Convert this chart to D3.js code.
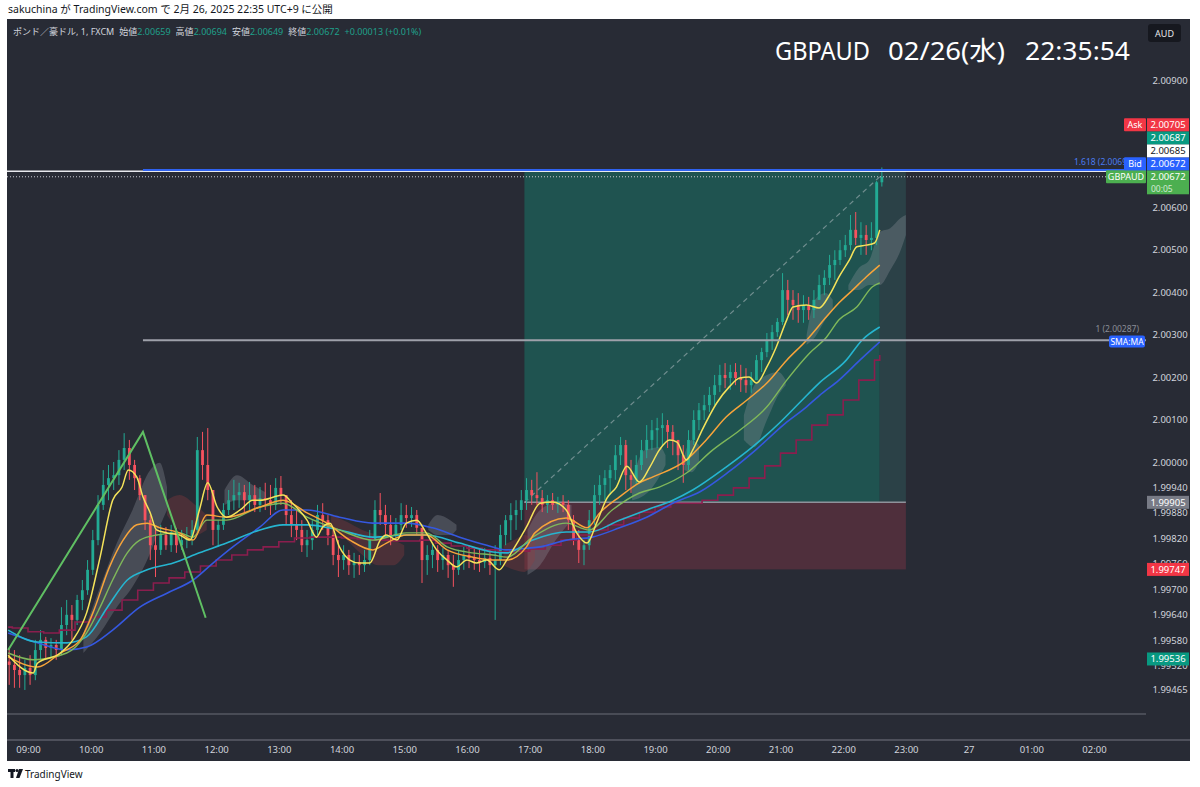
<!DOCTYPE html>
<html><head><meta charset="utf-8">
<script src="https://cdn.jsdelivr.net/npm/d3@7"></script>
<style>
html,body{margin:0;padding:0;background:#fff;}
svg{display:block;font-family:"Noto Sans","Noto Sans CJK JP",sans-serif;}
</style></head><body>
<svg id="c" width="1200" height="787"></svg>
<script>
// ---------------- DATA ----------------
const publishLine = "sakuchina が TradingView.com で 2月 26, 2025 22:35 UTC+9 に公開";
const symbolTitle = ["GBPAUD", "02/26(水)", "22:35:54"];
const legendName = "ポンド／豪ドル, 1, FXCM";
const legendItems = [["始値","2.00659"],["高値","2.00694"],["安値","2.00649"],["終値","2.00672"]];
const legendChange = "+0.00013 (+0.01%)";

const candleStart = "08:40";      // 5-minute candles
const candleStepMin = 5;
const firstOpen = 1.99530;
const closes = [1.99522,1.99510,1.99498,1.99515,1.99498,1.99557,1.99581,1.99562,1.99569,1.99557,
1.99616,1.99640,1.99628,1.99675,1.99698,1.99746,1.99816,1.99899,1.99946,1.99962,
1.99969,2.00005,2.00033,1.99993,1.99962,1.99922,1.99863,1.99804,1.99793,1.99828,
1.99804,1.99835,1.99804,1.99816,1.99821,1.99840,2.00028,1.99993,1.99934,1.99840,
1.99852,1.99887,1.99910,1.99922,1.99929,1.99910,1.99922,1.99899,1.99915,1.99910,
1.99899,1.99939,1.99922,1.99875,1.99852,1.99840,1.99804,1.99816,1.99840,1.99875,
1.99863,1.99828,1.99781,1.99769,1.99781,1.99757,1.99764,1.99757,1.99769,1.99816,
1.99887,1.99875,1.99852,1.99828,1.99852,1.99875,1.99868,1.99875,1.99845,1.99769,
1.99781,1.99793,1.99769,1.99781,1.99757,1.99746,1.99769,1.99781,1.99774,1.99769,
1.99764,1.99774,1.99757,1.99769,1.99828,1.99863,1.99875,1.99887,1.99910,1.99934,
1.99922,1.99915,1.99899,1.99910,1.99899,1.99906,1.99899,1.99863,1.99816,1.99793,
1.99804,1.99863,1.99922,1.99946,1.99962,1.99981,2.00016,2.00040,1.99969,1.99958,
1.99993,2.00028,2.00052,2.00075,2.00080,2.00087,2.00071,2.00052,2.00016,1.99993,
2.00052,2.00099,2.00122,2.00134,2.00158,2.00181,2.00205,2.00198,2.00212,2.00198,
2.00193,2.00181,2.00193,2.00240,2.00259,2.00287,2.00306,2.00330,2.00405,2.00382,
2.00370,2.00358,2.00370,2.00358,2.00382,2.00417,2.00434,2.00464,2.00476,2.00499,
2.00511,2.00547,2.00528,2.00535,2.00523,2.00528,2.00659,2.00672];
const highs = [1.99562,1.99557,1.99545,1.99534,1.99545,1.99581,1.99604,1.99588,1.99585,1.99581,
1.99658,1.99675,1.99663,1.99687,1.99722,1.99769,1.99840,1.99922,1.99981,1.99993,
2.00000,2.00028,2.00068,2.00052,2.00005,1.99969,1.99922,1.99875,1.99840,1.99852,
1.99847,1.99852,1.99845,1.99840,1.99847,1.99863,2.00059,2.00071,2.00080,1.99922,
1.99863,1.99903,1.99934,1.99958,1.99951,1.99946,1.99953,1.99946,1.99941,1.99951,
1.99946,1.99962,1.99967,1.99922,1.99910,1.99887,1.99863,1.99840,1.99863,1.99899,
1.99903,1.99875,1.99840,1.99816,1.99804,1.99793,1.99786,1.99781,1.99793,1.99840,
1.99910,1.99927,1.99899,1.99875,1.99868,1.99903,1.99899,1.99894,1.99887,1.99840,
1.99804,1.99809,1.99804,1.99797,1.99793,1.99781,1.99793,1.99800,1.99804,1.99797,
1.99793,1.99797,1.99793,1.99804,1.99852,1.99875,1.99903,1.99910,1.99934,1.99962,
1.99958,1.99976,1.99934,1.99922,1.99927,1.99918,1.99922,1.99910,1.99875,1.99840,
1.99816,1.99887,1.99946,1.99969,1.99981,1.99993,2.00040,2.00059,2.00052,2.00005,
2.00016,2.00052,2.00087,2.00099,2.00104,2.00115,2.00099,2.00087,2.00052,2.00040,
2.00075,2.00122,2.00139,2.00158,2.00177,2.00205,2.00229,2.00233,2.00229,2.00233,
2.00229,2.00221,2.00212,2.00252,2.00269,2.00304,2.00323,2.00339,2.00445,2.00429,
2.00405,2.00398,2.00393,2.00389,2.00405,2.00441,2.00452,2.00488,2.00499,2.00523,
2.00535,2.00582,2.00589,2.00565,2.00558,2.00565,2.00662,2.00694];
const lows = [1.99475,1.99468,1.99468,1.99463,1.99475,1.99486,1.99534,1.99534,1.99538,1.99534,
1.99545,1.99592,1.99581,1.99616,1.99651,1.99687,1.99734,1.99804,1.99887,1.99910,
1.99934,1.99946,1.99981,1.99958,1.99934,1.99910,1.99840,1.99769,1.99729,1.99781,
1.99793,1.99788,1.99786,1.99793,1.99797,1.99804,1.99828,1.99958,1.99910,1.99804,
1.99800,1.99840,1.99875,1.99887,1.99892,1.99882,1.99887,1.99882,1.99882,1.99887,
1.99875,1.99887,1.99899,1.99852,1.99823,1.99816,1.99788,1.99776,1.99793,1.99828,
1.99840,1.99804,1.99757,1.99729,1.99746,1.99734,1.99727,1.99734,1.99741,1.99757,
1.99816,1.99852,1.99828,1.99804,1.99816,1.99840,1.99845,1.99847,1.99828,1.99715,
1.99734,1.99750,1.99741,1.99746,1.99727,1.99706,1.99734,1.99746,1.99750,1.99746,
1.99741,1.99750,1.99734,1.99628,1.99757,1.99804,1.99816,1.99840,1.99863,1.99887,
1.99899,1.99899,1.99882,1.99880,1.99887,1.99880,1.99882,1.99840,1.99804,1.99762,
1.99757,1.99793,1.99852,1.99899,1.99910,1.99922,1.99958,1.99993,1.99934,1.99927,
1.99946,1.99981,2.00009,2.00028,2.00033,2.00040,2.00033,2.00016,1.99981,1.99951,
1.99981,2.00040,2.00075,2.00099,2.00118,2.00134,2.00165,2.00174,2.00170,2.00181,
2.00165,2.00163,2.00163,2.00193,2.00212,2.00247,2.00264,2.00295,2.00323,2.00346,
2.00335,2.00328,2.00328,2.00335,2.00339,2.00382,2.00393,2.00417,2.00429,2.00464,
2.00483,2.00499,2.00511,2.00488,2.00488,2.00499,2.00511,2.00649];

// indicator lines [time, price]
const yellowMA = [["08:41",1.99545],["09:05",1.99503],["09:09",1.99526],["09:31",1.99550],["09:43",1.99581],["09:56",1.99644],["10:09",1.99776],["10:21",1.99910],["10:30",1.99941],["10:36",1.99981],["10:44",1.99965],["10:50",1.99918],["10:57",1.99880],["11:03",1.99840],["11:13",1.99833],["11:25",1.99828],["11:35",1.99816],["11:44",1.99887],["11:52",1.99951],["12:01",1.99894],["12:10",1.99870],["12:23",1.99887],["12:35",1.99910],["12:42",1.99910],["13:04",1.99922],["13:13",1.99903],["13:27",1.99863],["13:36",1.99823],["13:42",1.99847],["13:49",1.99856],["13:58",1.99800],["14:08",1.99769],["14:17",1.99762],["14:27",1.99762],["14:37",1.99816],["14:43",1.99828],["14:53",1.99816],["15:02",1.99856],["15:12",1.99863],["15:21",1.99833],["15:31",1.99793],["15:41",1.99769],["15:50",1.99753],["16:00",1.99769],["16:09",1.99762],["16:19",1.99769],["16:31",1.99746],["16:38",1.99769],["16:48",1.99809],["16:57",1.99847],["17:10",1.99903],["17:22",1.99906],["17:35",1.99887],["17:45",1.99833],["17:55",1.99809],["18:04",1.99856],["18:14",1.99915],["18:23",1.99941],["18:33",1.99990],["18:45",1.99953],["18:55",1.99988],["19:04",2.00028],["19:14",2.00052],["19:21",2.00047],["19:30",2.00005],["19:36",2.00028],["19:45",2.00075],["19:59",2.00139],["20:11",2.00177],["20:21",2.00198],["20:30",2.00200],["20:37",2.00186],["20:47",2.00224],["20:56",2.00271],["21:06",2.00335],["21:12",2.00365],["21:25",2.00370],["21:37",2.00363],["21:47",2.00394],["21:56",2.00436],["22:06",2.00476],["22:13",2.00507],["22:22",2.00511],["22:30",2.00516],["22:35",2.00547]];
const orangeMA = [["08:41",1.99541],["09:09",1.99517],["09:31",1.99550],["09:50",1.99581],["10:02",1.99644],["10:18",1.99753],["10:31",1.99816],["10:44",1.99852],["10:54",1.99856],["11:06",1.99845],["11:25",1.99833],["11:38",1.99816],["11:51",1.99875],["12:10",1.99870],["12:42",1.99894],["13:04",1.99910],["13:27",1.99880],["13:46",1.99856],["14:08",1.99816],["14:30",1.99793],["14:43",1.99809],["15:02",1.99828],["15:21",1.99828],["15:41",1.99793],["16:05",1.99776],["16:25",1.99769],["16:38",1.99769],["16:57",1.99800],["17:05",1.99833],["17:35",1.99868],["17:55",1.99845],["18:07",1.99880],["18:26",1.99918],["18:45",1.99951],["18:58",1.99965],["19:30",2.00005],["19:49",2.00052],["20:08",2.00106],["20:28",2.00146],["20:47",2.00186],["21:06",2.00240],["21:25",2.00287],["21:44",2.00342],["21:56",2.00375],["22:09",2.00405],["22:22",2.00436],["22:35",2.00464]];
const greenMA = [["08:41",1.99550],["09:05",1.99534],["09:37",1.99550],["09:56",1.99597],["10:09",1.99658],["10:21",1.99722],["10:35",1.99786],["10:47",1.99816],["11:03",1.99828],["11:25",1.99833],["11:38",1.99823],["11:51",1.99863],["12:10",1.99863],["12:42",1.99894],["13:04",1.99903],["13:27",1.99870],["13:58",1.99840],["14:30",1.99816],["15:02",1.99833],["15:21",1.99833],["15:41",1.99800],["16:05",1.99786],["16:25",1.99781],["16:38",1.99776],["17:03",1.99823],["17:35",1.99856],["17:57",1.99840],["18:19",1.99887],["18:45",1.99927],["19:04",1.99941],["19:30",1.99974],["19:55",2.00028],["20:21",2.00075],["20:47",2.00130],["21:06",2.00193],["21:28",2.00257],["21:44",2.00294],["21:56",2.00335],["22:13",2.00365],["22:28",2.00413],["22:35",2.00422]];
const cyanMA = [["08:41",1.99604],["09:09",1.99576],["09:37",1.99574],["09:56",1.99588],["10:16",1.99658],["10:35",1.99722],["10:54",1.99746],["11:19",1.99762],["11:44",1.99786],["12:10",1.99809],["12:42",1.99840],["13:04",1.99852],["13:27",1.99852],["13:58",1.99840],["14:30",1.99823],["15:02",1.99828],["15:21",1.99828],["15:53",1.99809],["16:25",1.99788],["16:38",1.99786],["17:03",1.99816],["17:35",1.99835],["17:57",1.99835],["18:26",1.99863],["18:52",1.99887],["19:17",1.99910],["19:36",1.99934],["20:08",1.99988],["20:33",2.00035],["20:59",2.00092],["21:18",2.00139],["21:37",2.00186],["22:03",2.00240],["22:18",2.00287],["22:35",2.00318]];
const blueMA = [["08:41",1.99597],["09:09",1.99574],["09:37",1.99557],["09:56",1.99564],["10:21",1.99604],["10:47",1.99658],["11:13",1.99691],["11:38",1.99722],["11:57",1.99762],["12:16",1.99800],["12:42",1.99847],["13:04",1.99887],["13:27",1.99887],["13:58",1.99870],["14:30",1.99856],["15:02",1.99856],["15:27",1.99845],["15:53",1.99823],["16:19",1.99804],["16:38",1.99793],["16:57",1.99797],["17:10",1.99800],["17:35",1.99816],["18:00",1.99823],["18:26",1.99845],["18:52",1.99870],["19:17",1.99903],["19:43",1.99930],["20:10",1.99976],["20:37",2.00030],["21:04",2.00090],["21:25",2.00130],["21:37",2.00156],["21:56",2.00193],["22:16",2.00240],["22:35",2.00283]];
const redStepMA = [["08:41",1.99611],["08:45",1.99609],["09:00",1.99600],["09:15",1.99597],["09:30",1.99604],["09:45",1.99623],["10:00",1.99635],["10:15",1.99651],["10:30",1.99675],["10:45",1.99698],["11:00",1.99715],["11:15",1.99727],["11:30",1.99741],["11:45",1.99755],["12:00",1.99769],["12:15",1.99781],["12:30",1.99793],["12:45",1.99800],["13:00",1.99812],["13:15",1.99821],["13:30",1.99823],["13:45",1.99823],["14:00",1.99821],["14:15",1.99819],["14:30",1.99816],["14:45",1.99814],["15:00",1.99814],["15:15",1.99816],["15:30",1.99809],["15:45",1.99802],["16:00",1.99797],["16:15",1.99793],["16:30",1.99788],["16:45",1.99790],["17:00",1.99795],["17:15",1.99804],["17:30",1.99816],["17:45",1.99828],["18:00",1.99840],["18:15",1.99852],["18:30",1.99868],["18:45",1.99882],["19:00",1.99894],["19:15",1.99903],["19:30",1.99903],["19:45",1.99910],["20:00",1.99922],["20:15",1.99939],["20:30",1.99962],["20:45",1.99991],["21:00",2.00021],["21:15",2.00052],["21:30",2.00087],["21:45",2.00111],["22:00",2.00146],["22:15",2.00193],["22:30",2.00240],["22:35",2.00252]];

// shaded clouds [time, upper, lower]
const grayCloud1 = [["09:53",1.99597,1.99550],["10:09",1.99706,1.99597],["10:25",1.99809,1.99658],["10:40",1.99887,1.99706],["10:57",1.99981,1.99786],["11:06",1.99998,1.99847],["11:13",1.99941,1.99887]];
const grayCloud2 = [["12:08",1.99934,1.99899],["12:20",1.99969,1.99910],["12:35",1.99946,1.99910],["12:47",1.99929,1.99910]];
const grayCloud3 = [["15:23",1.99852,1.99840],["15:32",1.99875,1.99828],["15:44",1.99863,1.99828],["15:50",1.99852,1.99840]];
const grayCloud4 = [["16:58",1.99840,1.99734],["17:10",1.99887,1.99757],["17:25",1.99903,1.99816],["17:40",1.99899,1.99863]];
const grayCloud5 = [["18:38",1.99958,1.99910],["18:50",2.00028,1.99922],["19:05",2.00035,1.99969],["19:10",2.00016,1.99993]];
const grayCloud6 = [["19:28",2.00016,1.99981],["19:35",2.00052,1.99976],["19:42",2.00040,2.00000]];
const grayCloud7 = [["20:25",2.00111,2.00052],["20:35",2.00181,2.00035],["20:47",2.00205,2.00099],["20:58",2.00212,2.00158],["21:05",2.00193,2.00181]];
const grayCloud8 = [["21:25",2.00299,2.00276],["21:33",2.00382,2.00294],["21:43",2.00398,2.00335],["21:50",2.00382,2.00358]];
const grayCloud9 = [["22:05",2.00417,2.00405],["22:15",2.00457,2.00405],["22:25",2.00476,2.00417],["22:35",2.00542,2.00417],["22:45",2.00551,2.00452],["22:55",2.00575,2.00499],["23:00",2.00582,2.00535]];
const redCloud1 = [["11:13",1.99910,1.99875],["11:25",1.99922,1.99840],["11:40",1.99899,1.99828],["11:51",1.99875,1.99840]];
const redCloud2 = [["13:50",1.99875,1.99852],["14:05",1.99859,1.99816],["14:20",1.99840,1.99781],["14:35",1.99828,1.99757],["14:50",1.99816,1.99757],["15:00",1.99804,1.99781]];
const redCloud3 = [["16:35",1.99804,1.99757],["16:45",1.99816,1.99746],["16:55",1.99828,1.99741],["17:05",1.99816,1.99769]];

// drawings
const zigzag = [["08:41",1.99557],["10:50",2.00071],["11:50",1.99633]];
const fibStart = "10:50";
const fibLevels = [["1",2.00287],["1.618",2.00688]];
const position = {start:"16:55", now:"22:35", end:"23:00", entry:1.99905, target:2.00685, stop:1.99747};
const lastPrice = 2.00672;

// axes
const priceTicks = [2.009,2.008,2.007,2.006,2.005,2.004,2.003,2.002,2.001,2.000,1.9994,1.9988,1.9982,1.9976,1.9970,1.9964,1.9958,1.9952,1.99465];
const timeTicks = ["09:00","10:00","11:00","12:00","13:00","14:00","15:00","16:00","17:00","18:00","19:00","20:00","21:00","22:00","23:00","2025-02-27 00:00","2025-02-27 01:00","2025-02-27 02:00"];
const timeLabels = ["09:00","10:00","11:00","12:00","13:00","14:00","15:00","16:00","17:00","18:00","19:00","20:00","21:00","22:00","23:00","27","01:00","02:00"];
// axis price tags: [side label, price, fill, text colour, sub text]
const stackedTags = [["GBPAUD",2.00672,"#4caf50","#ffffff","00:05"],["Bid",2.00672,"#2962ff","#ffffff",""],["",2.00685,"#ffffff","#131722",""],["",2.00687,"#089981","#ffffff",""],["Ask",2.00705,"#f23645","#ffffff",""]];
const freeTags = [[1.99905,"#787b86"],[1.99747,"#f23645"],[1.99536,"#089981"]];

// ---------------- CHART ----------------
const W = 1200, H = 787, BG = "#282b35";
const plotL = 7, plotT = 19, plotR = 1146, paneB = 714, axisT = 740, frameR = 1190, frameB = 761;
const svg = d3.select("#c");
const parse = d3.timeParse("%Y-%m-%d %H:%M");
const T = s => s.length > 5 ? parse(s) : parse("2025-02-26 " + s);

const x = d3.scaleTime().domain([T("09:00"), T("2025-02-27 02:00")]).range([28, 1094]);
const y = d3.scaleLinear().domain([1.99465, 2.00900]).range([689.1, 80]);

svg.append("rect").attr("width", W).attr("height", H).attr("fill", "#fff");
svg.append("text").attr("x", 8).attr("y", 13).attr("font-size", 10.5).attr("fill", "#131722").text(publishLine);
svg.append("rect").attr("x", plotL).attr("y", plotT).attr("width", frameR - plotL).attr("height", frameB - plotT).attr("fill", BG);

const defs = svg.append("defs");
defs.append("clipPath").attr("id", "clip").append("rect").attr("x", plotL).attr("y", plotT).attr("width", plotR - plotL).attr("height", paneB - plotT);
const plot = svg.append("g").attr("clip-path", "url(#clip)");

// position tool
const pS = x(T(position.start)), pN = x(T(position.now)), pE = x(T(position.end));
plot.append("rect").attr("x", pS).attr("y", y(position.target)).attr("width", pN - pS).attr("height", y(position.entry) - y(position.target)).attr("fill", "#1f5350");
plot.append("rect").attr("x", pN).attr("y", y(position.target)).attr("width", pE - pN).attr("height", y(position.entry) - y(position.target)).attr("fill", "#2b4147");
plot.append("rect").attr("x", pS).attr("y", y(position.entry)).attr("width", pE - pS).attr("height", y(position.stop) - y(position.entry)).attr("fill", "#4f2f3c");
plot.append("line").attr("x1", pS).attr("x2", pE).attr("y1", y(position.entry)).attr("y2", y(position.entry)).attr("stroke", "#8f929b").attr("stroke-width", 1.5);
plot.append("line").attr("x1", pS).attr("y1", y(position.entry)).attr("x2", pN).attr("y2", y(lastPrice)).attr("stroke", "rgba(210,212,220,0.45)").attr("stroke-width", 1.2).attr("stroke-dasharray", "5,4");

// clouds
const area = d3.area().x(d => x(T(d[0]))).y0(d => y(d[2])).y1(d => y(d[1])).curve(d3.curveMonotoneX);
[grayCloud1, grayCloud2, grayCloud3, grayCloud4, grayCloud5, grayCloud6, grayCloud7, grayCloud8, grayCloud9].forEach(c =>
  plot.append("path").attr("d", area(c)).attr("fill", "rgba(150,153,162,0.30)"));
[redCloud1, redCloud2, redCloud3].forEach(c =>
  plot.append("path").attr("d", area(c)).attr("fill", "rgba(150,60,62,0.32)"));

// candles
const t0 = T(candleStart);
const candles = closes.map((c, i) => {
  const o = i === 0 ? firstOpen : closes[i - 1];
  return {t: d3.timeMinute.offset(t0, i * candleStepMin + candleStepMin / 2), o, c, h: Math.max(highs[i], o, c), l: Math.min(lows[i], o, c)};
});
const cg = plot.append("g");
candles.forEach(d => {
  const col = d.c >= d.o ? "#22ab94" : "#f7525f";
  const cx = x(d.t);
  cg.append("line").attr("x1", cx).attr("x2", cx).attr("y1", y(d.h)).attr("y2", y(d.l)).attr("stroke", col).attr("stroke-width", 1);
  const top = y(Math.max(d.o, d.c)), bot = y(Math.min(d.o, d.c));
  cg.append("rect").attr("x", cx - 1.4).attr("width", 2.8).attr("y", top).attr("height", Math.max(1, bot - top)).attr("fill", col);
});

// indicator lines
const line = d3.line().x(d => x(T(d[0]))).y(d => y(d[1])).curve(d3.curveMonotoneX);
const stepLine = d3.line().x(d => x(T(d[0]))).y(d => y(d[1])).curve(d3.curveStepAfter);
plot.append("path").attr("d", stepLine(redStepMA)).attr("fill", "none").attr("stroke", "#8a1e4e").attr("stroke-width", 1.6);
plot.append("path").attr("d", line(blueMA)).attr("fill", "none").attr("stroke", "#3558e0").attr("stroke-width", 1.6);
plot.append("path").attr("d", line(cyanMA)).attr("fill", "none").attr("stroke", "#26b5d0").attr("stroke-width", 1.6);
plot.append("path").attr("d", line(greenMA)).attr("fill", "none").attr("stroke", "#7fb85a").attr("stroke-width", 1.4);
plot.append("path").attr("d", line(orangeMA)).attr("fill", "none").attr("stroke", "#f7a43a").attr("stroke-width", 1.5);
plot.append("path").attr("d", line(yellowMA)).attr("fill", "none").attr("stroke", "#f5e35a").attr("stroke-width", 1.5);

// zigzag drawing
plot.append("path").attr("d", d3.line().x(d => x(T(d[0]))).y(d => y(d[1]))(zigzag)).attr("fill", "none").attr("stroke", "#5fbf63").attr("stroke-width", 2);

// horizontal price lines
plot.append("line").attr("x1", plotL).attr("x2", plotR).attr("y1", y(lastPrice)).attr("y2", y(lastPrice)).attr("stroke", "#c9ccd4").attr("stroke-width", 1).attr("stroke-dasharray", "1,2");
plot.append("line").attr("x1", plotL).attr("x2", plotR).attr("y1", y(2.00685)).attr("y2", y(2.00685)).attr("stroke", "#e8e9ee").attr("stroke-width", 1.5);
fibLevels.forEach(([lab, p], i) => {
  const col = i === 0 ? "#9ea1aa" : "#2f62f0";
  plot.append("line").attr("x1", x(T(fibStart))).attr("x2", plotR).attr("y1", y(p)).attr("y2", y(p)).attr("stroke", col).attr("stroke-width", 2);
  const labRight = i === 0 ? 1139 : 1127;
  const labY = i === 0 ? y(p) - 8 : y(p) - 5;
  plot.append("text").attr("x", labRight).attr("y", labY).attr("text-anchor", "end").attr("font-size", 8.5).attr("fill", i === 0 ? "#8a8d96" : "#4a7bf0").text(i === 0 ? `${lab} (${p.toFixed(5)})` : `${lab} (${p.toFixed(4)}`);
});

// pane separator & axis border
svg.append("line").attr("x1", plotL).attr("x2", plotR).attr("y1", paneB).attr("y2", paneB).attr("stroke", "#6b6e78").attr("stroke-width", 1);
svg.append("line").attr("x1", plotL).attr("x2", frameR).attr("y1", axisT).attr("y2", axisT).attr("stroke", "#5b5e68").attr("stroke-width", 1.5);

// time axis
const xAxis = d3.axisBottom(x).tickValues(timeTicks.map(T)).tickFormat((d, i) => timeLabels[i]).tickSize(0).tickPadding(6);
const xg = svg.append("g").attr("transform", `translate(0,${axisT})`).call(xAxis);
xg.select(".domain").remove();
xg.selectAll("text").attr("font-size", 9.5).attr("fill", "#d1d4dc").attr("font-family", "Noto Sans, sans-serif");

// price axis
const tagX = 1147, tagW = 42, tagH = 13;
const yAxis = d3.axisRight(y).tickValues(priceTicks).tickFormat(d3.format(".5f")).tickSize(0).tickPadding(0);
const yg = svg.append("g").attr("transform", `translate(1170,0)`).call(yAxis);
yg.select(".domain").remove();
yg.selectAll("text").attr("text-anchor", "middle").attr("font-size", 9.5).attr("fill", "#d1d4dc").attr("font-family", "Noto Sans, sans-serif");

// SMA:MA tag at end of blue line
const smaY = y(blueMA[blueMA.length - 1][1]);
svg.append("rect").attr("x", 1109).attr("y", smaY - 6.5).attr("width", 36).attr("height", 12).attr("rx", 2).attr("fill", "#2962ff");
svg.append("text").attr("x", 1127).attr("y", smaY + 3).attr("text-anchor", "middle").attr("font-size", 8.5).attr("fill", "#fff").text("SMA:MA");

// stacked price tags
let prevTop = null;
stackedTags.forEach(([side, p, fill, tc, sub]) => {
  const h = sub ? 24 : tagH;
  let top = y(p) - tagH / 2;
  if (prevTop !== null && top + h > prevTop) top = prevTop - h;
  prevTop = top;
  svg.append("rect").attr("x", tagX).attr("y", top).attr("width", tagW).attr("height", h).attr("fill", fill);
  svg.append("text").attr("x", tagX + tagW / 2).attr("y", top + 9.5).attr("text-anchor", "middle").attr("font-size", 9.5).attr("fill", tc).text(p.toFixed(5));
  if (sub) svg.append("text").attr("x", tagX + 4).attr("y", top + 22).attr("font-size", 8.5).attr("fill", "rgba(255,255,255,0.75)").text(sub);
  if (side) {
    const sw = side.length * 6 + 4;
    svg.append("rect").attr("x", tagX - sw - 1).attr("y", top).attr("width", sw).attr("height", tagH).attr("rx", 1).attr("fill", fill);
    svg.append("text").attr("x", tagX - 1 - sw / 2).attr("y", top + 10).attr("text-anchor", "middle").attr("font-size", 9).attr("fill", "#fff").text(side);
  }
});
freeTags.forEach(([p, fill]) => {
  svg.append("rect").attr("x", tagX).attr("y", y(p) - tagH / 2).attr("width", tagW).attr("height", tagH).attr("fill", fill);
  svg.append("text").attr("x", tagX + tagW / 2).attr("y", y(p) + 3.5).attr("text-anchor", "middle").attr("font-size", 9.5).attr("fill", "#fff").text(p.toFixed(5));
});

// AUD box
svg.append("rect").attr("x", 1148).attr("y", 24).attr("width", 33).attr("height", 18).attr("rx", 3).attr("fill", "#16181f");
svg.append("text").attr("x", 1164.5).attr("y", 36.5).attr("text-anchor", "middle").attr("font-size", 9).attr("fill", "#e6e7eb").text("AUD");

// legend line (flowing tspans)
const lg = svg.append("text").attr("x", 13).attr("y", 35).attr("font-size", 9).attr("fill", "#d1d4dc");
lg.append("tspan").text(legendName);
legendItems.forEach(([k, v]) => {
  lg.append("tspan").attr("dx", 5).text(k);
  lg.append("tspan").attr("fill", "#1fa08b").text(v);
});
lg.append("tspan").attr("dx", 5).attr("fill", "#1fa08b").text(legendChange);

// big title
const titleX = [775, 888, 1025], titleW = [95, 117, 105];
symbolTitle.forEach((s, i) => svg.append("text").attr("x", titleX[i]).attr("y", 60).attr("font-size", 26).attr("fill", "#ffffff")
  .attr("textLength", titleW[i]).attr("lengthAdjust", "spacingAndGlyphs").text(s));

// footer logo
const lo = svg.append("g").attr("fill", "#131722");
lo.append("rect").attr("x", 8).attr("y", 769).attr("width", 7).attr("height", 3);
lo.append("rect").attr("x", 10.5).attr("y", 769).attr("width", 3).attr("height", 9);
lo.append("circle").attr("cx", 17).attr("cy", 770.5).attr("r", 1.6);
lo.append("path").attr("d", "M19,769 L23,769 L19.5,778 L16,778 Z");
svg.append("text").attr("x", 25).attr("y", 777.5).attr("font-size", 10).attr("fill", "#131722").text("TradingView");
</script>
</body></html>
